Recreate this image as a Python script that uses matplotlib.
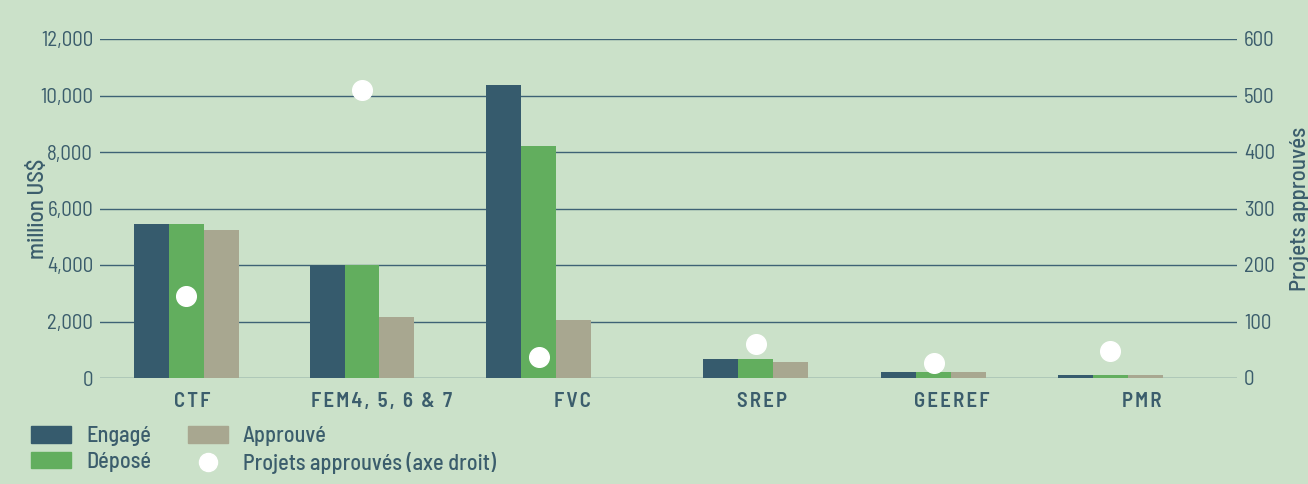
import matplotlib.pyplot as plt
import numpy as np
from matplotlib.patches import Patch
from matplotlib.lines import Line2D

plt.rcParams['font.family'] = ['Barlow Semi Condensed', 'DejaVu Sans']

# Données
fonds = ['CTF', 'FEM4, 5, 6 & 7', 'FVC', 'SREP', 'GEEREF', 'PMR']
engage = [5450, 4000, 10370, 670, 210, 100]
depose = [5450, 4000, 8210, 670, 210, 100]
approuve = [5240, 2160, 2050, 570, 210, 100]
projets = [145, 510, 37, 60, 27, 48]

# position des groupes de barres (légèrement décalées par rapport aux étiquettes, comme dans l'original)
pos_groupes = [-0.03, 0.895, 1.826, 2.968, 3.905, 4.832]

bg = '#cbe1c9'
txt = '#3b5d6c'
c_eng = '#365b6d'
c_dep = '#62ae5e'
c_app = '#a8a790'

fig = plt.figure(figsize=(13.08, 4.84), dpi=100, facecolor=bg)
ax = fig.add_axes([100 / 1308, 1 - 378 / 484, 1137 / 1308, 339 / 484])
ax.set_facecolor(bg)

x = np.arange(len(fonds))
xb = np.array(pos_groupes)
w = 0.184
ax.bar(xb - w, engage, w, color=c_eng, zorder=3)
ax.bar(xb, depose, w, color=c_dep, zorder=3)
ax.bar(xb + w, approuve, w, color=c_app, zorder=3)

ax.set_xlim(-0.484, 5.5)
ax.set_ylim(0, 12000)
ax.set_yticks(np.arange(0, 12001, 2000))
ax.set_yticklabels([f'{v:,}' for v in range(0, 12001, 2000)])
ax.grid(axis='y', color='#3e6275', linewidth=1, zorder=0)
for s in ax.spines.values():
    s.set_visible(False)
ax.tick_params(axis='y', length=0, pad=5, labelsize=15, labelcolor=txt)
ax.tick_params(axis='x', length=0, pad=10, labelcolor=txt)
ax.set_xticks(x)
# étiquettes espacées (espaces fines entre les lettres)
ax.set_xticklabels(['\u200a'.join(f) for f in fonds], fontsize=15, fontweight='semibold')
ax.set_ylabel('million US$', fontsize=16.5, color=txt, labelpad=-6, fontweight='medium')

ax2 = ax.twinx()
ax2.set_ylim(0, 600)
ax2.set_yticks(np.arange(0, 601, 100))
for s in ax2.spines.values():
    s.set_visible(False)
ax2.tick_params(axis='y', length=0, pad=5, labelsize=15, labelcolor=txt)
ax2.set_ylabel('Projets approuvés', fontsize=16.5, color=txt, labelpad=11, fontweight='medium')
ax2.scatter(xb, projets, s=200, color='white', zorder=5, clip_on=False)

handles = [
    Patch(color=c_eng, label='Engagé'),
    Patch(color=c_dep, label='Déposé'),
    Patch(color=c_app, label='Approuvé'),
    Line2D([], [], marker='o', linestyle='none', markersize=13,
           markerfacecolor='white', markeredgecolor='white',
           label='Projets approuvés (axe droit)'),
]
leg = fig.legend(handles=handles, ncol=2, loc='lower left',
                 bbox_to_anchor=(11 / 1308, -0.02), frameon=False,
                 fontsize=16, handlelength=1.8, handleheight=0.77,
                 columnspacing=1.65, labelspacing=0.25, handletextpad=0.68)
for t in leg.get_texts():
    t.set_color(txt)
    t.set_fontweight('medium')

fig.savefig('out.png', dpi=100, facecolor=bg)
